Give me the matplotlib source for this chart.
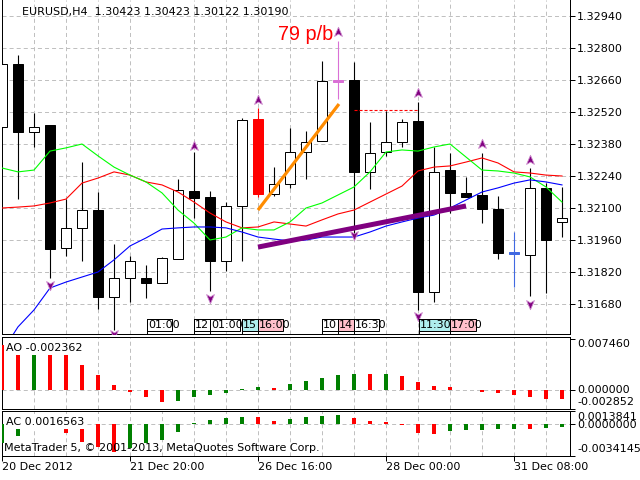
import numpy as np
import matplotlib
matplotlib.use('Agg')
import matplotlib.pyplot as plt
from matplotlib.patches import Rectangle
from matplotlib.path import Path
from matplotlib.transforms import blended_transform_factory

plt.rcParams['font.family'] = 'DejaVu Sans'
plt.rcParams['font.size'] = 8
plt.rcParams['lines.scale_dashes'] = False

# EURUSD H4, one entry per bar (bar index 0 = 20 Dec 2012)
opens = [1.32454, 1.32730, 1.32433, 1.32463, 1.31925, 1.32013, 1.32091, 1.31711, 1.31794,
         1.31794, 1.31772, 1.31877, 1.32174, 1.32148, 1.31868, 1.32109, 1.32489, 1.32161,
         1.32205, 1.32345, 1.32393, 1.32660, 1.32660, 1.32258, 1.32345, 1.32389, 1.32481,
         1.31733, 1.32266, 1.32166, 1.32157, 1.32096, 1.31907, 1.31894, 1.32188, 1.32039]
highs = [1.32748, 1.32769, 1.32516, 1.32463, 1.32139, 1.32301, 1.32170, 1.31943, 1.31890,
         1.31851, 1.31886, 1.32227, 1.32345, 1.32174, 1.32126, 1.32494, 1.32538, 1.32279,
         1.32450, 1.32437, 1.32743, 1.32831, 1.32739, 1.32476, 1.32524, 1.32489, 1.32564,
         1.32367, 1.32341, 1.32236, 1.32341, 1.32153, 1.31995, 1.32275, 1.32209, 1.32192]
lows = [1.32450, 1.32139, 1.32367, 1.31794, 1.31890, 1.31868, 1.31658, 1.31566, 1.31689,
        1.31706, 1.31772, 1.31877, 1.32056, 1.31737, 1.31824, 1.31868, 1.32148, 1.32153,
        1.32188, 1.32227, 1.32393, 1.32577, 1.31982, 1.32183, 1.32328, 1.32367, 1.31654,
        1.31689, 1.32078, 1.32148, 1.32034, 1.31877, 1.31754, 1.31715, 1.31728, 1.31973]
closes = [1.32730, 1.32433, 1.32454, 1.31921, 1.32013, 1.32091, 1.31711, 1.31794, 1.31868,
          1.31772, 1.31881, 1.32179, 1.32144, 1.31868, 1.32109, 1.32485, 1.32161, 1.32205,
          1.32345, 1.32389, 1.32656, 1.32651, 1.32258, 1.32341, 1.32389, 1.32476, 1.31733,
          1.32258, 1.32166, 1.32148, 1.32096, 1.31903, 1.31899, 1.32188, 1.31960, 1.32056]
# bars painted in a colour of their own
marked_bars = {16: 'red', 21: 'orchid', 32: 'royalblue'}

ma_green = [1.32275, 1.32258, 1.32266, 1.32349, 1.32363, 1.32380, 1.32328, 1.32279, 1.32244,
            1.32214, 1.32166, 1.32091, 1.32034, 1.31960, 1.31973, 1.32013, 1.32004, 1.32004,
            1.32039, 1.32100, 1.32122, 1.32157, 1.32192, 1.32258, 1.32345, 1.32354, 1.32349,
            1.32367, 1.32380, 1.32323, 1.32266, 1.32262, 1.32253, 1.32236, 1.32192, 1.32126]
ma_red = [1.32100, 1.32104, 1.32109, 1.32122, 1.32139, 1.32209, 1.32231, 1.32258, 1.32244,
          1.32214, 1.32201, 1.32170, 1.32126, 1.32078, 1.32039, 1.32013, 1.32017, 1.32039,
          1.32030, 1.32021, 1.32048, 1.32074, 1.32091, 1.32126, 1.32161, 1.32196, 1.32262,
          1.32279, 1.32284, 1.32301, 1.32319, 1.32297, 1.32258, 1.32253, 1.32244, 1.32240]
ma_blue = [1.31470, 1.31580, 1.31654, 1.31750, 1.31776, 1.31798, 1.31820, 1.31873, 1.31934,
           1.31969, 1.32008, 1.32013, 1.32017, 1.32017, 1.32013, 1.31995, 1.31973, 1.31964,
           1.31956, 1.31960, 1.31973, 1.31973, 1.31973, 1.31995, 1.32021, 1.32039, 1.32056,
           1.32069, 1.32100, 1.32135, 1.32170, 1.32188, 1.32209, 1.32223, 1.32214, 1.32201]

fractal_up_bar = [12, 16, 21, 26, 30, 33]
fractal_up_price = [1.32371, 1.32573, 1.32870, 1.32603, 1.32380, 1.32310]
fractal_dn_bar = [2, 3, 7, 13, 22, 26, 33]
fractal_dn_price = [1.31523, 1.31763, 1.31549, 1.31706, 1.31982, 1.31628, 1.31680]

# drawn objects
orange_bars, orange_prices = [16, 21.06], [1.32091, 1.32555]
purple_bars, purple_prices = [16, 29], [1.31929, 1.32109]
level_bars, level_price = [22, 26], 1.32529

# Awesome Oscillator and Accelerator
ao = [0.00650, 0.00600, 0.00630, 0.00580, 0.00520, 0.00364, 0.00220, 0.00062, -0.00033,
      -0.00105, -0.00177, -0.00172, -0.00105, -0.00077, -0.00048, 0.00012, 0.00033, 0.00019,
      0.00077, 0.00124, 0.00172, 0.00220, 0.00234, 0.00232, 0.00236, 0.00206, 0.00110,
      0.00048, 0.00045, 0.00001, -0.00033, -0.00048, -0.00077, -0.00105, -0.00134, -0.00138]
ac = [-0.00203, -0.00125, -0.00040, -0.00020, -0.00100, -0.00196, -0.00250, -0.00303, -0.00256,
      -0.00203, -0.00175, -0.00090, 0.00010, 0.00046, 0.00067, 0.00075, 0.00073, 0.00036,
      0.00053, 0.00075, 0.00082, 0.00096, 0.00067, 0.00036, 0.00025, -0.00014, -0.00100,
      -0.00110, -0.00078, -0.00068, -0.00067, -0.00057, -0.00056, -0.00058, -0.00046, -0.00032]

price_ticks = [1.31680, 1.31820, 1.31960, 1.32100, 1.32240, 1.32380, 1.32520, 1.32660,
               1.32800, 1.32940]
date_bars = [0, 8, 16, 24, 32]
date_labels = ['20 Dec 2012', '21 Dec 20:00', '26 Dec 16:00', '28 Dec 00:00', '31 Dec 08:00']

# time labels along the bottom of the price window
tag_text = ['01:00', '12', '01:00', '15', '16:00', '10', '14', '16:30', '11:30', '17:00']
tag_start = [9.06, 12, 13, 15, 16, 20, 21, 22, 26.06, 28]
tag_end = [10.63, 13, 14.88, 16, 17.56, 21, 22, 23.56, 28, 29.63]
tag_fill = ['white', 'white', 'white', '#afeeee', 'pink', 'white', 'pink', 'white',
            '#afeeee', 'pink']

GRID = '#c0c0c0'
GRID_LS = (0, (2.9, 2.2))
UP_GREEN = '#008000'
W, H = 640, 480

fig = plt.figure(figsize=(6.4, 4.8), dpi=100)


def panel(top, bottom):
    return fig.add_axes([2 / W, 1 - bottom / H, 568 / W, (bottom - top) / H])


ax = panel(0, 334)
ao_ax = panel(337, 409)
ac_ax = panel(411, 456)

n = len(opens)
bars = np.arange(n)

for a in (ax, ao_ax, ac_ax):
    a.set_xlim(0, n - 0.5)
    a.set_xticks(np.arange(2, n, 2), minor=True)
    a.grid(True, axis='x', which='minor', color=GRID, ls=GRID_LS, lw=0.72, zorder=0)
    a.tick_params(axis='x', which='both', length=0, labelbottom=False)
    a.yaxis.tick_right()
    a.tick_params(axis='y', direction='out', length=3.6, width=0.72, pad=1.44, labelsize=8)
    for s in a.spines.values():
        s.set_linewidth(0.72)
ax.spines['top'].set_visible(False)

# ---- price window ----
ax.set_ylim(1.3154875, 1.3301)
ax.set_yticks(price_ticks)
ax.set_yticklabels([f'{v:.5f}' for v in price_ticks])
ax.grid(True, axis='y', color=GRID, ls=GRID_LS, lw=0.72, zorder=0)
ax.set_axisbelow(True)

for i in range(n):
    o, h, l, c = opens[i], highs[i], lows[i], closes[i]
    col = marked_bars.get(i)
    ax.vlines(i, l, h, color=col or 'black', lw=0.8, zorder=3)
    if col:
        face, edge = col, col
    elif c >= o:
        face, edge = 'white', 'black'
    else:
        face, edge = 'black', 'black'
    ax.add_patch(Rectangle((i - 0.32, min(o, c)), 0.64, max(abs(c - o), 0.00003),
                           fc=face, ec=edge, lw=0.72, zorder=4))

ax.plot(bars, ma_red, color='red', lw=0.8, zorder=5)
ax.plot(bars, ma_green, color='#00ff00', lw=0.8, zorder=5)
ax.plot(bars, ma_blue, color='blue', lw=0.8, zorder=5)

ax.plot(orange_bars, orange_prices, color='darkorange', lw=2.3, zorder=6,
        solid_capstyle='butt')
ax.plot(purple_bars, purple_prices, color='purple', lw=3.6, zorder=6, solid_capstyle='butt')
ax.plot(level_bars, [level_price, level_price], color='red', lw=0.8, ls=(0, (2.2, 1.4)),
        zorder=6)

up_arrow = Path([(0, 1), (0.75, -0.75), (0, -0.3), (-0.75, -0.75), (0, 1)],
                [Path.MOVETO, Path.LINETO, Path.LINETO, Path.LINETO, Path.CLOSEPOLY])
dn_arrow = Path([(0, -1), (0.75, 0.75), (0, 0.3), (-0.75, 0.75), (0, -1)],
                [Path.MOVETO, Path.LINETO, Path.LINETO, Path.LINETO, Path.CLOSEPOLY])
ax.plot(fractal_up_bar, fractal_up_price, ls='none', marker=up_arrow, ms=7.5,
        mfc='#800080', mec='#cc88cc', mew=0.6, zorder=7)
ax.plot(fractal_dn_bar, fractal_dn_price, ls='none', marker=dn_arrow, ms=7.5,
        mfc='#800080', mec='#cc88cc', mew=0.6, zorder=7)

ax.text(20 / 568, (334 - 12) / 334, 'EURUSD,H4  1.30423 1.30423 1.30122 1.30190',
        transform=ax.transAxes, ha='left', va='center', fontsize=8)
ax.text(17.25, 1.32835, '79 p/b', color='red', fontsize=14.3, family='Liberation Sans',
        ha='left', va='baseline', zorder=8)

tb = blended_transform_factory(ax.transData, ax.transAxes)
box_lo, box_hi = 3 / 334, 15 / 334
for k, txt in enumerate(tag_text):
    x0, x1 = tag_start[k], tag_end[k]
    z = 8 + 2 * k
    ax.add_patch(Rectangle((x0, box_lo), x1 - x0, box_hi - box_lo, transform=tb,
                           fc=tag_fill[k], ec='black', lw=0.72, zorder=z))
    ax.plot([x0, x0], [0, box_hi], transform=tb, color='black', lw=0.72, zorder=z)
    ax.text(x0 + 0.06, (box_lo + box_hi) / 2, txt, transform=tb, ha='left', va='center',
            fontsize=8, zorder=z + 1)

# ---- AO window ----
ao_colors = ['red'] + [UP_GREEN if ao[k] > ao[k - 1] else 'red' for k in range(1, n)]
ao_ax.set_ylim(-0.002852, 0.00775)
ao_ax.axhline(0, color=GRID, ls=GRID_LS, lw=0.72, zorder=1)
ao_ax.bar(bars, ao, width=0.25, color=ao_colors, zorder=3)
ao_ax.set_yticks([-0.002852, 0, 0.00746])
ao_ax.set_yticklabels(['', '', ''])
ao_ax.text(4 / 568, (409 - 348) / 72, 'AO -0.002362', transform=ao_ax.transAxes,
           ha='left', va='center', fontsize=8, zorder=6,
           bbox=dict(fc='white', ec='none', pad=1.3))

# ---- AC window ----
ac_colors = [UP_GREEN] + [UP_GREEN if ac[k] > ac[k - 1] else 'red' for k in range(1, n)]
ac_ax.set_ylim(-0.0034145, 0.0013841)
ac_ax.axhline(0, color=GRID, ls=GRID_LS, lw=0.72, zorder=1)
ac_ax.bar(bars, ac, width=0.25, color=ac_colors, zorder=3)
ac_ax.set_yticks([-0.0034145, 0, 0.0013841])
ac_ax.set_yticklabels(['', '', ''])
ac_ax.text(4 / 568, (456 - 422) / 45, 'AC 0.0016563', transform=ac_ax.transAxes,
           ha='left', va='center', fontsize=8, zorder=6,
           bbox=dict(fc='white', ec='none', pad=1.3))
ac_ax.text(2 / 568, (456 - 448) / 45, 'MetaTrader 5, © 2001-2013, MetaQuotes Software Corp.',
           transform=ac_ax.transAxes, ha='left', va='center', fontsize=8, zorder=5)

ac_ax.set_xticks(date_bars)
ac_ax.set_xticklabels(date_labels, ha='left')
ac_ax.grid(True, axis='x', which='major', color=GRID, ls=GRID_LS, lw=0.72, zorder=0)
ac_ax.tick_params(axis='x', which='major', length=3.6, width=0.72, direction='out',
                  labelbottom=True, pad=1, labelsize=8)


def side_label(a, value, text, dy):
    a.annotate(text, xy=(1, value), xycoords=('axes fraction', 'data'),
               xytext=(5.04, dy), textcoords='offset points', ha='left', va='center',
               fontsize=8, annotation_clip=False)


side_label(ao_ax, 0.00746, '0.007460', -3.6)
side_label(ao_ax, 0, '0.000000', 0)
side_label(ao_ax, -0.002852, '-0.002852', 5.0)
side_label(ac_ax, 0.0013841, '0.0013841', -4.0)
side_label(ac_ax, 0, '0.0000000', -0.5)
side_label(ac_ax, -0.0034145, '-0.0034145', 5.0)

fig.savefig('out.png', dpi=100, facecolor='white')
